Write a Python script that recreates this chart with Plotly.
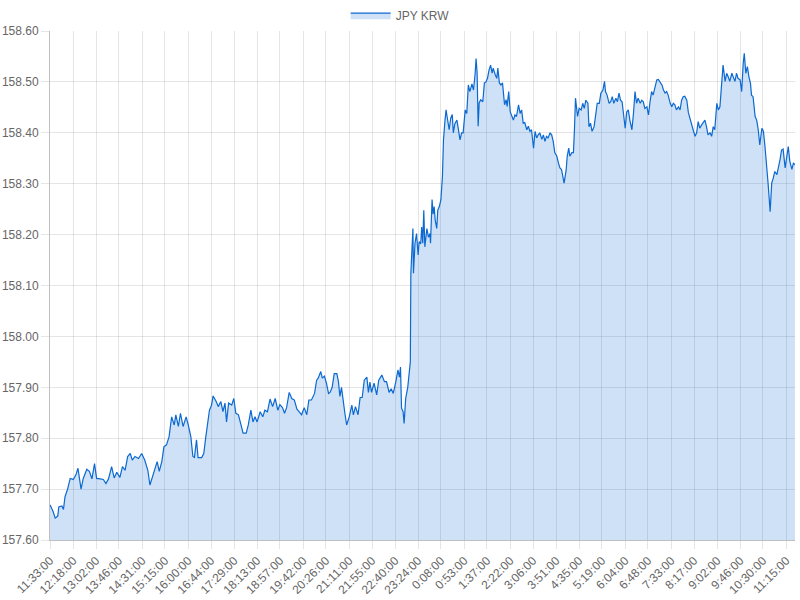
import plotly.graph_objects as go

# minutes after the first sample (11:33:00)
minute_offsets = [
    0, 6, 10, 15, 17, 23, 26, 29, 34, 39,
    45, 50, 54, 56, 60, 64, 71, 76, 81, 86,
    90, 97, 103, 108, 113, 119, 124, 129, 135, 140,
    145, 150, 155, 159, 164, 171, 177, 183, 189, 193,
    198, 203, 207, 211, 216, 220, 225, 230, 235, 240,
    243, 248, 252, 257, 263, 267, 272, 276, 279, 283,
    286, 293, 297, 301, 308, 312, 315, 321, 325, 330,
    334, 338, 341, 345, 351, 355, 359, 364, 368, 373,
    379, 383, 388, 392, 396, 400, 406, 411, 415, 420,
    425, 430, 435, 440, 444, 449, 453, 457, 462, 467,
    472, 477, 481, 486, 491, 496, 500, 505, 511, 515,
    518, 523, 526, 530, 534, 538, 541, 545, 549, 554,
    557, 560, 563, 567, 570, 573, 578, 583, 586, 590,
    595, 599, 603, 607, 612, 615, 618, 621, 626, 631,
    635, 641, 646, 650, 655, 659, 663, 668, 672, 675,
    677, 679, 682, 684, 687, 691, 694, 696, 697, 699,
    701, 702, 705, 708, 711, 713, 716, 718, 720, 722,
    724, 728, 731, 734, 735, 738, 740, 742, 744, 747,
    749, 752, 755, 758, 760, 763, 765, 767, 771, 774,
    777, 779, 782, 786, 789, 792, 795, 798, 802, 805,
    808, 811, 815, 818, 821, 823, 825, 827, 829, 832,
    836, 839, 842, 845, 848, 851, 854, 856, 860, 863,
    865, 868, 871, 874, 878, 881, 883, 886, 889, 892,
    895, 898, 901, 905, 908, 911, 914, 917, 921, 924,
    927, 930, 934, 937, 940, 943, 946, 950, 953, 956,
    959, 962, 966, 969, 972, 975, 979, 982, 985, 988,
    991, 993, 997, 999, 1002, 1004, 1008, 1011, 1013, 1015,
    1019, 1022, 1026, 1029, 1032, 1035, 1039, 1041, 1044, 1047,
    1051, 1054, 1057, 1061, 1064, 1068, 1071, 1073, 1076, 1080,
    1083, 1086, 1089, 1093, 1096, 1099, 1102, 1105, 1109, 1111,
    1114, 1117, 1120, 1124, 1127, 1130, 1133, 1136, 1140, 1143,
    1146, 1149, 1153, 1156, 1159, 1162, 1165, 1169, 1172, 1175,
    1178, 1182, 1185, 1188, 1191, 1194, 1198, 1201, 1204, 1207,
    1210, 1214, 1217, 1220, 1223, 1226, 1230, 1233, 1236, 1239,
    1243, 1246, 1249, 1252, 1255, 1259, 1262, 1265, 1268, 1271,
    1275, 1278, 1281, 1284, 1288, 1291, 1294, 1297, 1300, 1304,
    1307, 1310, 1313, 1317, 1320, 1323, 1326, 1329, 1333, 1336,
    1339, 1341, 1344, 1347, 1350, 1353, 1355, 1358, 1362, 1365,
    1368, 1371, 1375, 1378, 1381, 1384, 1387, 1391, 1394, 1397,
    1400, 1404, 1407, 1410, 1413, 1416, 1420, 1423, 1426, 1429,
    1433, 1436, 1439,
]

jpy_krw = [
    157.669, 157.656, 157.643, 157.647, 157.665, 157.667, 157.660, 157.685, 157.700, 157.721,
    157.719, 157.728, 157.741, 157.724, 157.700, 157.720, 157.739, 157.735, 157.720, 157.750,
    157.721, 157.720, 157.719, 157.711, 157.720, 157.744, 157.722, 157.733, 157.723, 157.744,
    157.737, 157.764, 157.770, 157.757, 157.764, 157.760, 157.770, 157.757, 157.737, 157.708,
    157.724, 157.737, 157.754, 157.735, 157.754, 157.783, 157.787, 157.803, 157.842, 157.826,
    157.846, 157.823, 157.849, 157.823, 157.842, 157.826, 157.803, 157.764, 157.762, 157.797,
    157.762, 157.762, 157.770, 157.803, 157.855, 157.865, 157.883, 157.872, 157.862, 157.872,
    157.852, 157.869, 157.832, 157.869, 157.865, 157.878, 157.849, 157.846, 157.832, 157.810,
    157.810, 157.826, 157.855, 157.832, 157.842, 157.832, 157.852, 157.842, 157.855, 157.852,
    157.877, 157.862, 157.878, 157.855, 157.866, 157.860, 157.849, 157.860, 157.890, 157.878,
    157.875, 157.857, 157.852, 157.846, 157.860, 157.846, 157.875, 157.875, 157.888, 157.914,
    157.918, 157.931, 157.918, 157.922, 157.908, 157.888, 157.890, 157.900, 157.927, 157.927,
    157.912, 157.882, 157.900, 157.862, 157.846, 157.826, 157.842, 157.865, 157.846, 157.862,
    157.846, 157.880, 157.880, 157.914, 157.920, 157.890, 157.910, 157.890, 157.908, 157.885,
    157.914, 157.924, 157.911, 157.911, 157.890, 157.897, 157.888, 157.911, 157.934, 157.920,
    157.940, 157.859, 157.852, 157.829, 157.878, 157.900, 157.927, 157.950, 158.124, 158.186,
    158.212, 158.124, 158.183, 158.202, 158.160, 158.186, 158.182, 158.215, 158.183, 158.248,
    158.176, 158.212, 158.195, 158.202, 158.183, 158.269, 158.240, 158.255, 158.229, 158.212,
    158.248, 158.255, 158.268, 158.314, 158.386, 158.425, 158.445, 158.432, 158.406, 158.429,
    158.436, 158.400, 158.418, 158.425, 158.400, 158.386, 158.400, 158.400, 158.445, 158.438,
    158.494, 158.481, 158.496, 158.484, 158.514, 158.546, 158.517, 158.413, 158.459, 158.465,
    158.461, 158.498, 158.500, 158.507, 158.523, 158.533, 158.517, 158.527, 158.514, 158.507,
    158.527, 158.498, 158.494, 158.498, 158.455, 158.465, 158.452, 158.481, 158.441, 158.432,
    158.425, 158.435, 158.432, 158.455, 158.438, 158.445, 158.419, 158.420, 158.406, 158.413,
    158.403, 158.406, 158.370, 158.403, 158.390, 158.396, 158.400, 158.387, 158.396, 158.383,
    158.393, 158.390, 158.400, 158.396, 158.383, 158.361, 158.354, 158.341, 158.331, 158.328,
    158.314, 158.301, 158.327, 158.354, 158.370, 158.354, 158.361, 158.361, 158.406, 158.468,
    158.432, 158.448, 158.445, 158.458, 158.448, 158.464, 158.458, 158.412, 158.419, 158.403,
    158.412, 158.435, 158.458, 158.458, 158.478, 158.484, 158.501, 158.481, 158.474, 158.458,
    158.461, 158.471, 158.458, 158.468, 158.461, 158.478, 158.464, 158.461, 158.425, 158.409,
    158.441, 158.445, 158.425, 158.406, 158.438, 158.481, 158.458, 158.468, 158.458, 158.464,
    158.461, 158.448, 158.451, 158.435, 158.461, 158.481, 158.474, 158.494, 158.504, 158.505,
    158.501, 158.494, 158.484, 158.478, 158.481, 158.474, 158.458, 158.451, 158.458, 158.455,
    158.445, 158.451, 158.445, 158.464, 158.471, 158.472, 158.464, 158.440, 158.429, 158.416,
    158.403, 158.393, 158.400, 158.422, 158.409, 158.416, 158.422, 158.425, 158.412, 158.396,
    158.400, 158.393, 158.412, 158.406, 158.458, 158.445, 158.451, 158.494, 158.533, 158.501,
    158.517, 158.510, 158.501, 158.517, 158.507, 158.501, 158.517, 158.507, 158.504, 158.481,
    158.537, 158.556, 158.517, 158.530, 158.510, 158.497, 158.474, 158.471, 158.432, 158.425,
    158.406, 158.376, 158.409, 158.403, 158.373, 158.341, 158.301, 158.245, 158.301, 158.311,
    158.324, 158.318, 158.331, 158.347, 158.366, 158.368, 158.331, 158.354, 158.373, 158.344,
    158.328, 158.341, 158.337,
]

tick_labels = [
    "11:33:00", "12:18:00", "13:02:00", "13:46:00", "14:31:00", "15:15:00",
    "16:00:00", "16:44:00", "17:29:00", "18:13:00", "18:57:00", "19:42:00",
    "20:26:00", "21:11:00", "21:55:00", "22:40:00", "23:24:00", "0:08:00",
    "0:53:00", "1:37:00", "2:22:00", "3:06:00", "3:51:00", "4:35:00",
    "5:19:00", "6:04:00", "6:48:00", "7:33:00", "8:17:00", "9:02:00",
    "9:46:00", "10:30:00", "11:15:00",
]

assert len(minute_offsets) == len(jpy_krw)

START = 11 * 60 + 33


def offset_of(label):
    h, m, _ = label.split(":")
    return (int(h) * 60 + int(m) - START) % 1440


tick_vals = [offset_of(t) for t in tick_labels]

line_col = "rgb(12,105,209)"
fill_col = "rgba(12,105,209,0.2)"
grid_col = "rgba(0,0,0,0.1)"
font = dict(family="Liberation Sans, Arial, sans-serif", size=12, color="#666")

fig = go.Figure()
fig.add_trace(go.Scatter(
    x=minute_offsets, y=jpy_krw, name="JPY KRW",
    mode="lines", line=dict(color=line_col, width=1.2),
    fill="tozeroy", fillcolor=fill_col,
))

fig.update_layout(
    width=800, height=600,
    margin=dict(l=50, r=5, t=31, b=60, autoexpand=False),
    paper_bgcolor="white", plot_bgcolor="white",
    font=font,
    showlegend=True,
    legend=dict(orientation="h", x=0.47, xanchor="center", y=1.031, yanchor="middle",
                font=font, itemwidth=40),
)
fig.update_xaxes(
    range=[0, 1439], tickvals=tick_vals, ticktext=tick_labels, tickangle=-45,
    showgrid=True, gridcolor=grid_col, gridwidth=1,
    ticks="outside", ticklen=8, tickcolor=grid_col,
    showline=True, linecolor="rgba(0,0,0,0.25)", linewidth=1,
    zeroline=False, tickfont=font, automargin=False,
)
fig.update_yaxes(
    range=[157.6, 158.6], dtick=0.1, tick0=157.6, tickformat=".2f",
    showgrid=True, gridcolor=grid_col, gridwidth=1,
    ticks="outside", ticklen=8, tickcolor=grid_col,
    showline=True, linecolor="rgba(0,0,0,0.25)", linewidth=1,
    zeroline=False, tickfont=font, automargin=False,
)

# drop the browser's default body margin so the 800x600 figure fills the window
fig.write_html("out.html", config={"displayModeBar": False},
               post_script="document.body.style.margin = '0';")
